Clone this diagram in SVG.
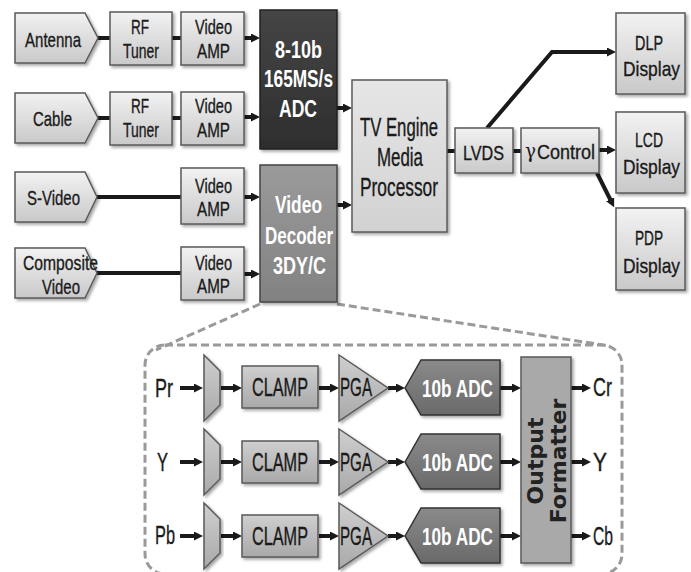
<svg xmlns="http://www.w3.org/2000/svg" width="691" height="572" viewBox="0 0 691 572">
<defs>
<linearGradient id="gLight" x1="0" y1="0" x2="0" y2="1"><stop offset="0" stop-color="#f2f2f2"/><stop offset="1" stop-color="#c9c9c9"/></linearGradient>
<linearGradient id="gTV" x1="0" y1="0" x2="0" y2="1"><stop offset="0" stop-color="#e6e6e6"/><stop offset="1" stop-color="#d2d2d2"/></linearGradient>
<linearGradient id="gDark" x1="0" y1="0" x2="0" y2="1"><stop offset="0" stop-color="#454545"/><stop offset="1" stop-color="#2e2e2e"/></linearGradient>
<linearGradient id="gDec" x1="0" y1="0" x2="0" y2="1"><stop offset="0" stop-color="#9a9a9a"/><stop offset="1" stop-color="#828282"/></linearGradient>
<linearGradient id="gMid" x1="0" y1="0" x2="0" y2="1"><stop offset="0" stop-color="#cfcfcf"/><stop offset="1" stop-color="#a9a9a9"/></linearGradient>
<linearGradient id="gAdc" x1="0" y1="0" x2="0" y2="1"><stop offset="0" stop-color="#8a8a8a"/><stop offset="1" stop-color="#6a6a6a"/></linearGradient>
<filter id="sh" x="-10%" y="-10%" width="130%" height="130%"><feDropShadow dx="2" dy="2" stdDeviation="1.5" flood-color="#000" flood-opacity="0.35"/></filter>
<marker id="ah" viewBox="0 0 9 9" markerWidth="9" markerHeight="9" refX="2" refY="4.5" orient="auto" markerUnits="userSpaceOnUse"><path d="M0,0 L9,4.5 L0,9 z" fill="#1a1a1a"/></marker>
</defs>
<style>
.box{fill:url(#gLight);stroke:#5a5a5a;stroke-width:1.5;filter:url(#sh)}
.t{font-family:"Liberation Sans",Arial,sans-serif;font-size:21px;fill:#1a1a1a;stroke:#1a1a1a;stroke-width:0.35}
.tb{font-family:"Liberation Sans",Arial,sans-serif;font-size:24px;font-weight:bold;fill:#ffffff}
.td{font-family:"Liberation Sans",Arial,sans-serif;font-size:25px;fill:#1a1a1a;stroke:#1a1a1a;stroke-width:0.35}
.c{stroke:#1a1a1a;stroke-width:4;fill:none}
.a{stroke:#1a1a1a;stroke-width:4;fill:none;marker-end:url(#ah)}
.dash{stroke:#9a9a9a;stroke-width:3;fill:none;stroke-dasharray:8 4}
</style>

<g id="connectors">
<line class="c" x1="98" y1="38" x2="110" y2="38"/>
<line class="c" x1="172" y1="38" x2="181" y2="38"/>
<line class="a" x1="244" y1="38" x2="253" y2="38"/>
<line class="c" x1="98" y1="118" x2="110" y2="118"/>
<line class="c" x1="172" y1="118" x2="181" y2="118"/>
<line class="a" x1="244" y1="117" x2="253" y2="117"/>
<line class="c" x1="97" y1="197" x2="181" y2="197"/>
<line class="a" x1="244" y1="197" x2="253" y2="197"/>
<line class="c" x1="97" y1="273" x2="181" y2="273"/>
<line class="a" x1="244" y1="274" x2="253" y2="274"/>
<line class="a" x1="337" y1="108" x2="345" y2="108"/>
<line class="a" x1="337" y1="205" x2="345" y2="205"/>
<line class="c" x1="447" y1="151" x2="455" y2="151"/>
<line class="c" x1="513" y1="151" x2="521" y2="151"/>
<line class="a" x1="599" y1="150" x2="609" y2="150"/>
<polyline class="a" points="487,128 552,52 609,52"/>
<line class="a" x1="597" y1="173" x2="611" y2="201"/>
<line class="dash" x1="260" y1="304" x2="156" y2="350"/>
<line class="dash" x1="337" y1="304" x2="610" y2="346"/>
<rect class="dash" x="145" y="345" width="477" height="229" rx="20"/>
<g id="detail-arrows">
<line class="a" x1="180" y1="388" x2="196" y2="388"/>
<line class="a" x1="221" y1="388" x2="235" y2="388"/>
<line class="a" x1="319" y1="388" x2="332" y2="388"/>
<line class="a" x1="388" y1="388" x2="398" y2="388"/>
<line class="a" x1="500" y1="388" x2="514" y2="388"/>
<line class="a" x1="571" y1="388" x2="584" y2="388"/>
<line class="a" x1="180" y1="462" x2="196" y2="462"/>
<line class="a" x1="221" y1="462" x2="235" y2="462"/>
<line class="a" x1="319" y1="462" x2="332" y2="462"/>
<line class="a" x1="388" y1="462" x2="398" y2="462"/>
<line class="a" x1="500" y1="462" x2="514" y2="462"/>
<line class="a" x1="571" y1="462" x2="584" y2="462"/>
<line class="a" x1="180" y1="536" x2="196" y2="536"/>
<line class="a" x1="221" y1="536" x2="235" y2="536"/>
<line class="a" x1="319" y1="536" x2="332" y2="536"/>
<line class="a" x1="388" y1="536" x2="398" y2="536"/>
<line class="a" x1="500" y1="536" x2="514" y2="536"/>
<line class="a" x1="571" y1="536" x2="584" y2="536"/>
</g>
</g>

<g id="antenna"><polygon class="box" points="15,13 85,13 98,38 85,63 15,63"/><text class="t" x="25" y="47" textLength="56" lengthAdjust="spacingAndGlyphs">Antenna</text></g>
<g id="cable"><polygon class="box" points="15,93 85,93 98,118 85,143 15,143"/><text class="t" x="33" y="126" textLength="39" lengthAdjust="spacingAndGlyphs">Cable</text></g>
<g id="svideo"><polygon class="box" points="15,172 85,172 97,197 85,222 15,222"/><text class="t" x="27" y="205" textLength="53" lengthAdjust="spacingAndGlyphs">S-Video</text></g>
<g id="composite"><polygon class="box" points="15,248 85,248 97,273 85,298 15,298"/><text class="t" x="23" y="270" textLength="75" lengthAdjust="spacingAndGlyphs">Composite</text><text class="t" x="42" y="294" textLength="38" lengthAdjust="spacingAndGlyphs">Video</text></g>

<g id="rf1"><rect class="box" x="110" y="12" width="62" height="53"/><text class="t" x="131" y="34" textLength="18" lengthAdjust="spacingAndGlyphs">RF</text><text class="t" x="123" y="58" textLength="36" lengthAdjust="spacingAndGlyphs">Tuner</text></g>
<g id="amp1"><rect class="box" x="181" y="12" width="63" height="53"/><text class="t" x="195" y="34" textLength="37" lengthAdjust="spacingAndGlyphs">Video</text><text class="t" x="197" y="58" textLength="33" lengthAdjust="spacingAndGlyphs">AMP</text></g>
<g id="rf2"><rect class="box" x="110" y="92" width="62" height="53"/><text class="t" x="131" y="113" textLength="18" lengthAdjust="spacingAndGlyphs">RF</text><text class="t" x="123" y="137" textLength="36" lengthAdjust="spacingAndGlyphs">Tuner</text></g>
<g id="amp2"><rect class="box" x="181" y="92" width="63" height="53"/><text class="t" x="195" y="113" textLength="37" lengthAdjust="spacingAndGlyphs">Video</text><text class="t" x="197" y="137" textLength="33" lengthAdjust="spacingAndGlyphs">AMP</text></g>
<g id="amp3"><rect class="box" x="181" y="168" width="63" height="56"/><text class="t" x="195" y="193" textLength="37" lengthAdjust="spacingAndGlyphs">Video</text><text class="t" x="197" y="216" textLength="33" lengthAdjust="spacingAndGlyphs">AMP</text></g>
<g id="amp4"><rect class="box" x="181" y="247" width="63" height="53"/><text class="t" x="195" y="270" textLength="37" lengthAdjust="spacingAndGlyphs">Video</text><text class="t" x="197" y="293" textLength="33" lengthAdjust="spacingAndGlyphs">AMP</text></g>

<g id="adc"><rect class="box" style="fill:url(#gDark);stroke:#222" x="260" y="10" width="77" height="139"/><text class="tb" x="275" y="58" textLength="47" lengthAdjust="spacingAndGlyphs">8-10b</text><text class="tb" x="264" y="87" textLength="69" lengthAdjust="spacingAndGlyphs">165MS/s</text><text class="tb" x="279" y="117" textLength="38" lengthAdjust="spacingAndGlyphs">ADC</text></g>
<g id="decoder"><rect class="box" style="fill:url(#gDec);stroke:#444" x="260" y="165" width="77" height="137"/><text class="tb" x="275" y="213" textLength="47" lengthAdjust="spacingAndGlyphs" font-size="25">Video</text><text class="tb" x="265" y="244" textLength="68" lengthAdjust="spacingAndGlyphs" font-size="25">Decoder</text><text class="tb" x="273" y="274" textLength="53" lengthAdjust="spacingAndGlyphs" font-size="25">3DY/C</text></g>
<g id="tvengine"><rect class="box" style="fill:url(#gTV)" x="352" y="80" width="95" height="152"/><text class="td" x="360" y="136" textLength="78" lengthAdjust="spacingAndGlyphs">TV Engine</text><text class="td" x="377" y="166" textLength="46" lengthAdjust="spacingAndGlyphs">Media</text><text class="td" x="360" y="196" textLength="78" lengthAdjust="spacingAndGlyphs">Processor</text></g>
<g id="lvds"><rect class="box" x="455" y="128" width="58" height="45"/><text class="t" x="463" y="160" textLength="41" lengthAdjust="spacingAndGlyphs" font-size="24">LVDS</text></g>
<g id="gamma"><rect class="box" x="521" y="128" width="78" height="45"/><text x="525" y="158" font-family="DejaVu Serif,serif" font-size="21" fill="#1a1a1a" textLength="11" lengthAdjust="spacingAndGlyphs">γ</text><text class="t" x="537" y="159" textLength="58" lengthAdjust="spacingAndGlyphs" font-size="24">Control</text></g>
<g id="dlp"><rect class="box" x="616" y="13" width="69" height="81"/><text class="t" x="635" y="50" textLength="28" lengthAdjust="spacingAndGlyphs" font-size="23">DLP</text><text class="t" x="623" y="76" textLength="57" lengthAdjust="spacingAndGlyphs" font-size="23">Display</text></g>
<g id="lcd"><rect class="box" x="616" y="112" width="69" height="81"/><text class="t" x="635" y="147" textLength="28" lengthAdjust="spacingAndGlyphs" font-size="23">LCD</text><text class="t" x="623" y="174" textLength="57" lengthAdjust="spacingAndGlyphs" font-size="23">Display</text></g>
<g id="pdp"><rect class="box" x="616" y="208" width="69" height="82"/><text class="t" x="635" y="245" textLength="28" lengthAdjust="spacingAndGlyphs" font-size="23">PDP</text><text class="t" x="623" y="273" textLength="57" lengthAdjust="spacingAndGlyphs" font-size="23">Display</text></g>

<g id="in-labels">
<text class="td" x="155" y="397" textLength="18" lengthAdjust="spacingAndGlyphs">Pr</text>
<text class="td" x="157" y="471" textLength="11" lengthAdjust="spacingAndGlyphs">Y</text>
<text class="td" x="155" y="544" textLength="20" lengthAdjust="spacingAndGlyphs">Pb</text>
</g>
<g id="mux-pr"><polygon class="box" style="fill:url(#gMid)" points="204,355 220,371 220,405 204,421"/></g>
<g id="mux-y"><polygon class="box" style="fill:url(#gMid)" points="204,429 220,445 220,479 204,495"/></g>
<g id="mux-pb"><polygon class="box" style="fill:url(#gMid)" points="204,503 220,519 220,553 204,569"/></g>
<g id="clamp-pr"><rect class="box" style="fill:url(#gMid)" x="242" y="366" width="76" height="42"/><text class="td" x="252" y="396" textLength="56" lengthAdjust="spacingAndGlyphs">CLAMP</text></g>
<g id="clamp-y"><rect class="box" style="fill:url(#gMid)" x="242" y="441" width="76" height="42"/><text class="td" x="252" y="471" textLength="56" lengthAdjust="spacingAndGlyphs">CLAMP</text></g>
<g id="clamp-pb"><rect class="box" style="fill:url(#gMid)" x="242" y="515" width="76" height="42"/><text class="td" x="252" y="545" textLength="56" lengthAdjust="spacingAndGlyphs">CLAMP</text></g>
<g id="pga-pr"><polygon class="box" style="fill:url(#gMid)" points="339,355 388,388 339,421"/><text class="td" x="340" y="396" textLength="32" lengthAdjust="spacingAndGlyphs">PGA</text></g>
<g id="pga-y"><polygon class="box" style="fill:url(#gMid)" points="339,429 388,462 339,495"/><text class="td" x="340" y="471" textLength="32" lengthAdjust="spacingAndGlyphs">PGA</text></g>
<g id="pga-pb"><polygon class="box" style="fill:url(#gMid)" points="339,503 388,536 339,569"/><text class="td" x="340" y="545" textLength="32" lengthAdjust="spacingAndGlyphs">PGA</text></g>
<g id="adc-pr"><polygon class="box" style="fill:url(#gAdc);stroke:#333" points="405,388 421,360 500,360 500,415 421,415"/><text class="tb" x="422" y="397" textLength="71" lengthAdjust="spacingAndGlyphs" font-size="24">10b ADC</text></g>
<g id="adc-y"><polygon class="box" style="fill:url(#gAdc);stroke:#333" points="405,462 421,434 500,434 500,489 421,489"/><text class="tb" x="422" y="471" textLength="71" lengthAdjust="spacingAndGlyphs" font-size="24">10b ADC</text></g>
<g id="adc-pb"><polygon class="box" style="fill:url(#gAdc);stroke:#333" points="405,536 421,508 500,508 500,563 421,563"/><text class="tb" x="422" y="545" textLength="71" lengthAdjust="spacingAndGlyphs" font-size="24">10b ADC</text></g>
<g id="output-formatter"><rect class="box" style="fill:#a9a9a9" x="521" y="357" width="50" height="206"/>
<text transform="translate(543,461) rotate(-90)" text-anchor="middle" font-family="DejaVu Sans,sans-serif" font-weight="bold" font-size="22" fill="#222">Output</text>
<text transform="translate(566,461) rotate(-90)" text-anchor="middle" font-family="DejaVu Sans,sans-serif" font-weight="bold" font-size="22" fill="#222">Formatter</text></g>
<g id="out-labels">
<text class="td" x="593" y="396" textLength="19" lengthAdjust="spacingAndGlyphs">Cr</text>
<text class="td" x="593" y="471" textLength="14" lengthAdjust="spacingAndGlyphs">Y</text>
<text class="td" x="593" y="545" textLength="20" lengthAdjust="spacingAndGlyphs">Cb</text>
</g>
</svg>
